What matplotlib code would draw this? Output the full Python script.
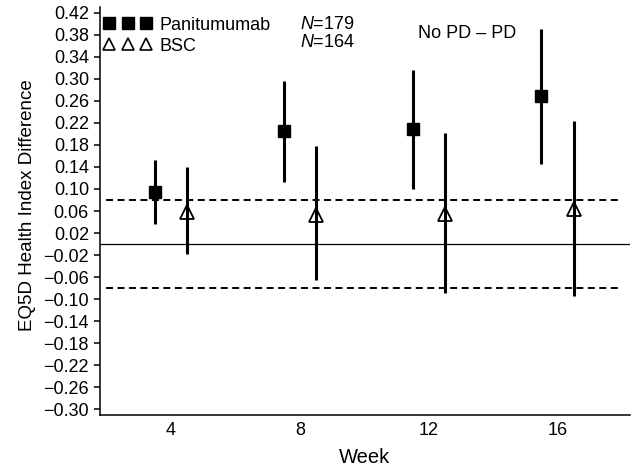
import matplotlib
matplotlib.use("Agg")
import matplotlib.pyplot as plt
from matplotlib.lines import Line2D
import numpy as np

plt.rcParams['font.family'] = ['Liberation Sans', 'DejaVu Sans']
plt.rcParams['mathtext.fontset'] = 'custom'
plt.rcParams['mathtext.rm'] = 'Liberation Sans'
plt.rcParams['mathtext.it'] = 'Liberation Sans:italic'

# ---- data ----
weeks = [4, 8, 12, 16]
pan_mean = [0.095, 0.205, 0.208, 0.268]
pan_lo = [0.036, 0.113, 0.100, 0.145]
pan_hi = [0.152, 0.296, 0.315, 0.390]
bsc_mean = [0.059, 0.053, 0.054, 0.064]
bsc_lo = [-0.018, -0.066, -0.089, -0.094]
bsc_hi = [0.140, 0.177, 0.202, 0.224]
yticks = [round(-0.30 + 0.04 * i, 2) for i in range(19)]
ytick_labels = [("%.2f" % v).replace('-', '\u2212') for v in yticks]
xtick_labels = ['4', '8', '12', '16']
series_labels = ['Panitumumab', 'BSC']
n_labels = ['179', '164']
mcid = 0.08

fig = plt.figure(figsize=(6.36, 4.72), dpi=100)
ax = fig.add_axes([100 / 636, 57 / 472, 530 / 636, 408 / 472])

off = 0.5
wk = np.array(weeks, dtype=float)
pm = np.array(pan_mean); bm = np.array(bsc_mean)

ax.axhline(0, color='black', lw=0.9, zorder=1)
ax.hlines([mcid, -mcid], 2, 18, colors='black', lw=1.4,
          linestyles=[(0, (3.6, 2.3))], zorder=1)

ax.errorbar(wk - off, pm, yerr=[pm - np.array(pan_lo), np.array(pan_hi) - pm],
            fmt='s', color='black', ms=8, elinewidth=2.2, capsize=0, zorder=3)
ax.errorbar(wk + off, bm, yerr=[bm - np.array(bsc_lo), np.array(bsc_hi) - bm],
            fmt='^', color='black', mfc='none', mec='black', mew=1.3, ms=10.5,
            elinewidth=2.2, capsize=0, zorder=3)

ax.set_xlim(1.8, 18.25)
ax.set_ylim(-0.31, 0.43)
ax.set_xticks(weeks)
ax.set_xticklabels(xtick_labels)
ax.set_yticks(yticks)
ax.set_yticklabels(ytick_labels)
ax.tick_params(axis='x', length=0, pad=5, labelsize=13)
ax.tick_params(axis='y', length=4.5, width=1.1, pad=3.5, labelsize=13)
for s in ['top', 'right']:
    ax.spines[s].set_visible(False)
for s in ['left', 'bottom']:
    ax.spines[s].set_linewidth(1.1)

ax.set_xlabel('Week', fontsize=14.5)
ax.xaxis.set_label_coords(0.5, -0.082)
ax.set_ylabel('EQ5D Health Index Difference', fontsize=13.5)
ax.yaxis.set_label_coords(-0.12, 0.515)

handles = [Line2D([], [], marker='s', ls='none', color='black', ms=8.5),
           Line2D([], [], marker='^', ls='none', mfc='none', mec='black',
                  mew=1.2, ms=9)]
ax.legend(handles, series_labels, loc='upper left', bbox_to_anchor=(0.007, 0.976),
          numpoints=3, handlelength=2.65, handletextpad=0.42, labelspacing=0.22,
          borderpad=0, borderaxespad=0, frameon=False, fontsize=13)

ax.text(0.377, 0.957, r'$N$=' + n_labels[0], transform=ax.transAxes,
        fontsize=13, ha='left', va='center')
ax.text(0.377, 0.912, r'$N$=' + n_labels[1], transform=ax.transAxes,
        fontsize=13, ha='left', va='center')
ax.text(0.6, 0.934, 'No PD \u2013 PD', transform=ax.transAxes,
        fontsize=13, ha='left', va='center')

fig.savefig('out.png', dpi=100)
